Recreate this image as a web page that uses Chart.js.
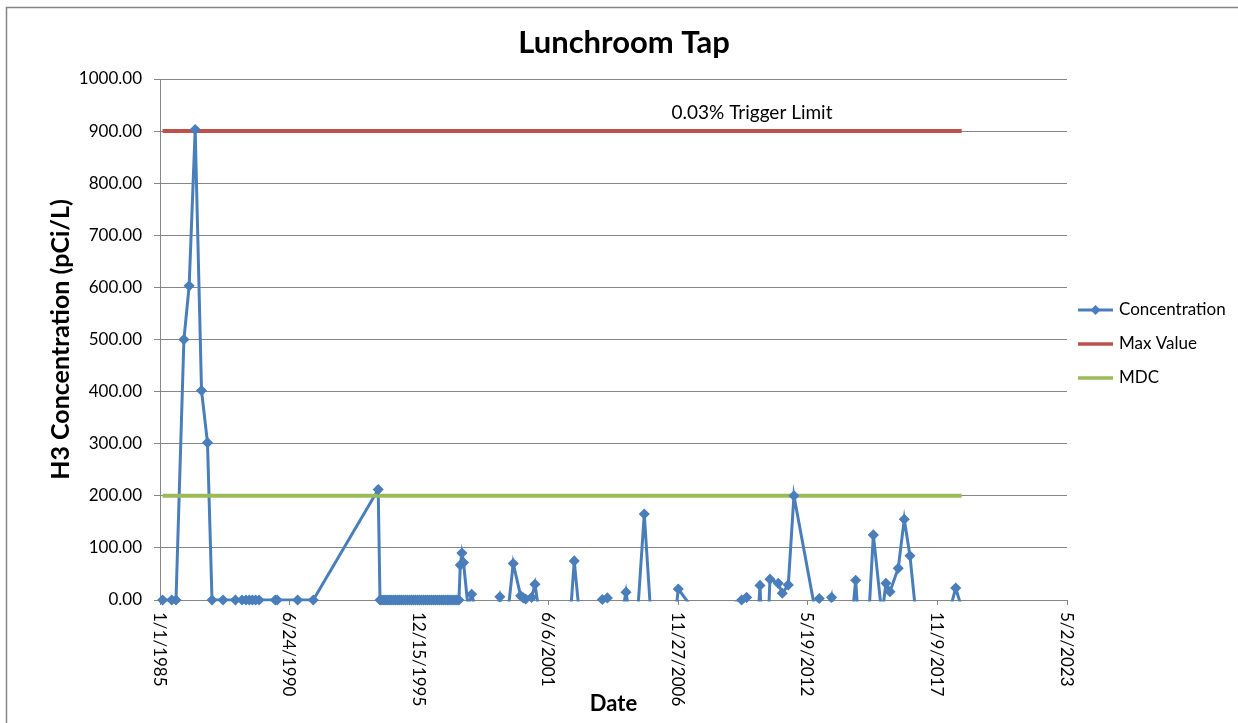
<!DOCTYPE html>
<html>
<head>
<meta charset="utf-8">
<title>Lunchroom Tap</title>
<script src="https://cdn.jsdelivr.net/npm/chart.js@4.4.1/dist/chart.umd.min.js"></script>
<style>
  html, body { margin: 0; padding: 0; background: #fff; }
  canvas { display: block; }
</style>
</head>
<body>
<canvas id="chart" width="1238" height="723"></canvas>
<script>
// sample dates and H3 results (pCi/L); results below zero drop out under the axis
const sampleDates = [
  '1985-02-10', '1985-07-01', '1985-09-05', '1986-01-05', '1986-03-27', '1986-06-28',
  '1986-10-04', '1987-01-04', '1987-03-15', '1987-09-01', '1988-03-10', '1988-06-20',
  '1988-08-20', '1988-10-10', '1988-11-28', '1989-01-16', '1989-03-10', '1989-11-15',
  '1989-12-15', '1990-10-26', '1991-06-25', '1994-03-23',
  '1994-04-20', '1994-05-20', '1994-06-20', '1994-07-20', '1994-08-20', '1994-09-20',
  '1994-10-20', '1994-11-20', '1994-12-20', '1995-01-20', '1995-02-20', '1995-03-20',
  '1995-04-20', '1995-05-20', '1995-06-20', '1995-07-20', '1995-08-20', '1995-09-20',
  '1995-10-20', '1995-11-20', '1995-12-20', '1996-01-20', '1996-02-20', '1996-03-20',
  '1996-04-20', '1996-05-20', '1996-06-20', '1996-07-20', '1996-08-20', '1996-09-20',
  '1996-10-20', '1996-11-20', '1996-12-20', '1997-01-20', '1997-02-20', '1997-03-20',
  '1997-04-20', '1997-05-20', '1997-06-20', '1997-07-20', '1997-08-20',
  '1997-09-10', '1997-10-05', '1997-10-30', '1998-01-09', '1998-03-05', '1998-10-25',
  '1999-05-14', '1999-08-15', '1999-12-06', '2000-03-30', '2000-05-09', '2000-06-15',
  '2000-09-16', '2000-11-06', '2001-04-09', '2002-02-27', '2002-07-05', '2003-02-02',
  '2003-09-12', '2003-11-28', '2004-03-25', '2004-09-11', '2005-01-28', '2005-06-20',
  '2006-02-17', '2006-11-27', '2007-10-27', '2009-08-01', '2009-10-17', '2010-01-22',
  '2010-05-11', '2010-07-27', '2010-10-12', '2011-02-17', '2011-04-20', '2011-07-22',
  '2011-10-17', '2012-09-06', '2012-11-11', '2013-02-07', '2013-05-21', '2013-11-28',
  '2014-05-27', '2014-10-01', '2015-02-24', '2015-07-07', '2015-09-06', '2015-11-07',
  '2016-03-14', '2016-06-15', '2016-09-11', '2017-05-01', '2018-08-18', '2018-11-18'
];
const concentration = [
  0, 0, 0, 500, 603, 903,
  402, 302, 0, 0, 0, 0,
  0, 0, 0, 0, 0, 0,
  0, 0, 0, 212,
  0, 0, 0, 0, 0, 0,
  0, 0, 0, 0, 0, 0,
  0, 0, 0, 0, 0, 0,
  0, 0, 0, 0, 0, 0,
  0, 0, 0, 0, 0, 0,
  0, 0, 0, 0, 0, 0,
  0, 0, 0, 0, 0,
  67, 90, 72, -15, 11, -100,
  6, -60, 70, 8, 4, 2,
  5, 30, -100, -150, 75, -200,
  1, 4, -100, 15, -100, 165,
  -300, 21, -35, 0, 5, -200,
  28, -200, 40, 32, 13, 29,
  200, -18, 3, -50, 5, -200,
  38, -200, 125, -30, 32, 16,
  61, 155, 85, -200, 23, -15
];
const maxValue = 900;
const mdcValue = 200;
const seriesNames = ['Concentration', 'Max Value', 'MDC'];
const xTickLabels = ['1/1/1985', '6/24/1990', '12/15/1995', '6/6/2001', '11/27/2006', '5/19/2012', '11/9/2017', '5/2/2023'];
const yTicks = [0, 100, 200, 300, 400, 500, 600, 700, 800, 900, 1000];

const FONT = 'Lato, "Open Sans", sans-serif';
const BLUE = '#4a7ebb';
const RED = '#c0504d';
const GREEN = '#9bbb59';
const GRID = '#868686';

function toDay(s) {
  let y, m, d;
  if (s.includes('/')) { [m, d, y] = s.split('/').map(Number); }
  else { [y, m, d] = s.split('-').map(Number); }
  return Date.UTC(y, m - 1, d) / 86400000;
}

const points = sampleDates.map((s, i) => ({ x: toDay(s), y: concentration[i] }));
const firstDay = points[0].x;
const lastDay = points[points.length - 1].x;

const extras = {
  id: 'extras',
  beforeDraw(chart) {
    const ctx = chart.ctx;
    ctx.save();
    ctx.fillStyle = '#fff';
    ctx.fillRect(0, 0, chart.width, chart.height);
    // outer frame (only left and top are inside the picture)
    ctx.strokeStyle = GRID;
    ctx.lineWidth = 1.5;
    ctx.beginPath();
    ctx.moveTo(6.5, chart.height + 5);
    ctx.lineTo(6.5, 7.5);
    ctx.lineTo(chart.width + 5, 7.5);
    ctx.stroke();
    ctx.restore();
  },
  afterDraw(chart) {
    const ctx = chart.ctx;
    const xs = chart.scales.x, ys = chart.scales.y;
    ctx.save();
    ctx.fillStyle = '#000';

    // title
    ctx.font = 'bold 31px ' + FONT;
    ctx.textAlign = 'center';
    ctx.textBaseline = 'middle';
    ctx.fillText('Lunchroom Tap', 624, 43);

    // rotated date labels, reading downwards
    ctx.font = '17px ' + FONT;
    ctx.textAlign = 'left';
    xTickLabels.forEach(l => {
      const px = xs.getPixelForValue(toDay(l));
      ctx.save();
      ctx.translate(px - 1, xs.top + 12);
      ctx.rotate(Math.PI / 2);
      ctx.fillText(l, 0, 0);
      ctx.restore();
    });

    // trigger limit note above the max value line
    ctx.font = '19px ' + FONT;
    ctx.textAlign = 'center';
    ctx.fillText('0.03% Trigger Limit', xs.getPixelForValue(toDay('2010-01-08')), ys.getPixelForValue(935));

    // legend
    const colors = [BLUE, RED, GREEN];
    ctx.textAlign = 'left';
    seriesNames.forEach((name, i) => {
      const cy = 310 + i * 34;
      ctx.strokeStyle = colors[i];
      ctx.lineWidth = i === 0 ? 3 : 3.5;
      ctx.beginPath();
      ctx.moveTo(1078, cy);
      ctx.lineTo(1113, cy);
      ctx.stroke();
      if (i === 0) {
        ctx.fillStyle = BLUE;
        ctx.beginPath();
        ctx.moveTo(1095.5, cy - 5);
        ctx.lineTo(1100.5, cy);
        ctx.lineTo(1095.5, cy + 5);
        ctx.lineTo(1090.5, cy);
        ctx.closePath();
        ctx.fill();
      }
      ctx.fillStyle = '#000';
      ctx.font = '17px ' + FONT;
      ctx.fillText(name, 1119, cy);
    });
    ctx.restore();
  }
};

new Chart(document.getElementById('chart'), {
  type: 'line',
  data: {
    datasets: [
      {
        label: seriesNames[0],
        data: points,
        borderColor: BLUE,
        borderWidth: 3,
        pointRadius: 0,
        tension: 0,
        clip: { left: 5, top: 5, right: 5, bottom: 1.5 },
        order: 3
      },
      {
        label: seriesNames[0] + ' markers',
        data: points,
        showLine: false,
        pointStyle: 'rectRot',
        pointRadius: c => (c.raw && c.raw.y < 0 ? 0 : 4.5),
        pointBackgroundColor: BLUE,
        pointBorderColor: BLUE,
        pointBorderWidth: 1.5,
        clip: false,
        order: 0
      },
      {
        label: seriesNames[1],
        data: [{ x: firstDay, y: maxValue }, { x: lastDay, y: maxValue }],
        borderColor: RED,
        borderWidth: 4,
        pointRadius: 0,
        order: 1
      },
      {
        label: seriesNames[2],
        data: [{ x: firstDay, y: mdcValue }, { x: lastDay, y: mdcValue }],
        borderColor: GREEN,
        borderWidth: 4,
        pointRadius: 0,
        order: 1
      }
    ]
  },
  options: {
    responsive: false,
    animation: false,
    events: [],
    layout: { padding: { top: 79, right: 171, bottom: 0, left: 0 } },
    plugins: {
      legend: { display: false },
      title: { display: false },
      tooltip: { enabled: false }
    },
    scales: {
      x: {
        type: 'linear',
        min: toDay(xTickLabels[0]),
        max: toDay(xTickLabels[xTickLabels.length - 1]),
        afterBuildTicks: s => { s.ticks = xTickLabels.map(l => ({ value: toDay(l) })); },
        afterFit: s => { s.height = 123; },
        grid: { drawOnChartArea: false, drawTicks: true, tickLength: 5, color: GRID },
        border: { display: true, color: GRID, width: 1 },
        ticks: { display: false },
        title: {
          display: true,
          text: 'Date',
          color: '#000',
          font: { family: FONT, size: 22, weight: 'bold' },
          padding: { top: 0, bottom: 6 }
        }
      },
      y: {
        min: 0,
        max: 1000,
        afterBuildTicks: s => { s.ticks = yTicks.map(v => ({ value: v })); },
        afterFit: s => { s.width = 160; },
        grid: { color: GRID, lineWidth: 1, drawTicks: true, tickLength: 6 },
        border: { display: true, color: GRID, width: 1 },
        ticks: {
          color: '#000',
          padding: 12,
          font: { family: FONT, size: 17 },
          callback: v => Number(v).toFixed(2)
        },
        title: {
          display: true,
          text: 'H3 Concentration (pCi/L)',
          color: '#000',
          font: { family: FONT, size: 25, weight: 'bold' },
          padding: { top: 46, bottom: 0 }
        }
      }
    }
  },
  plugins: [extras]
});
</script>
</body>
</html>
